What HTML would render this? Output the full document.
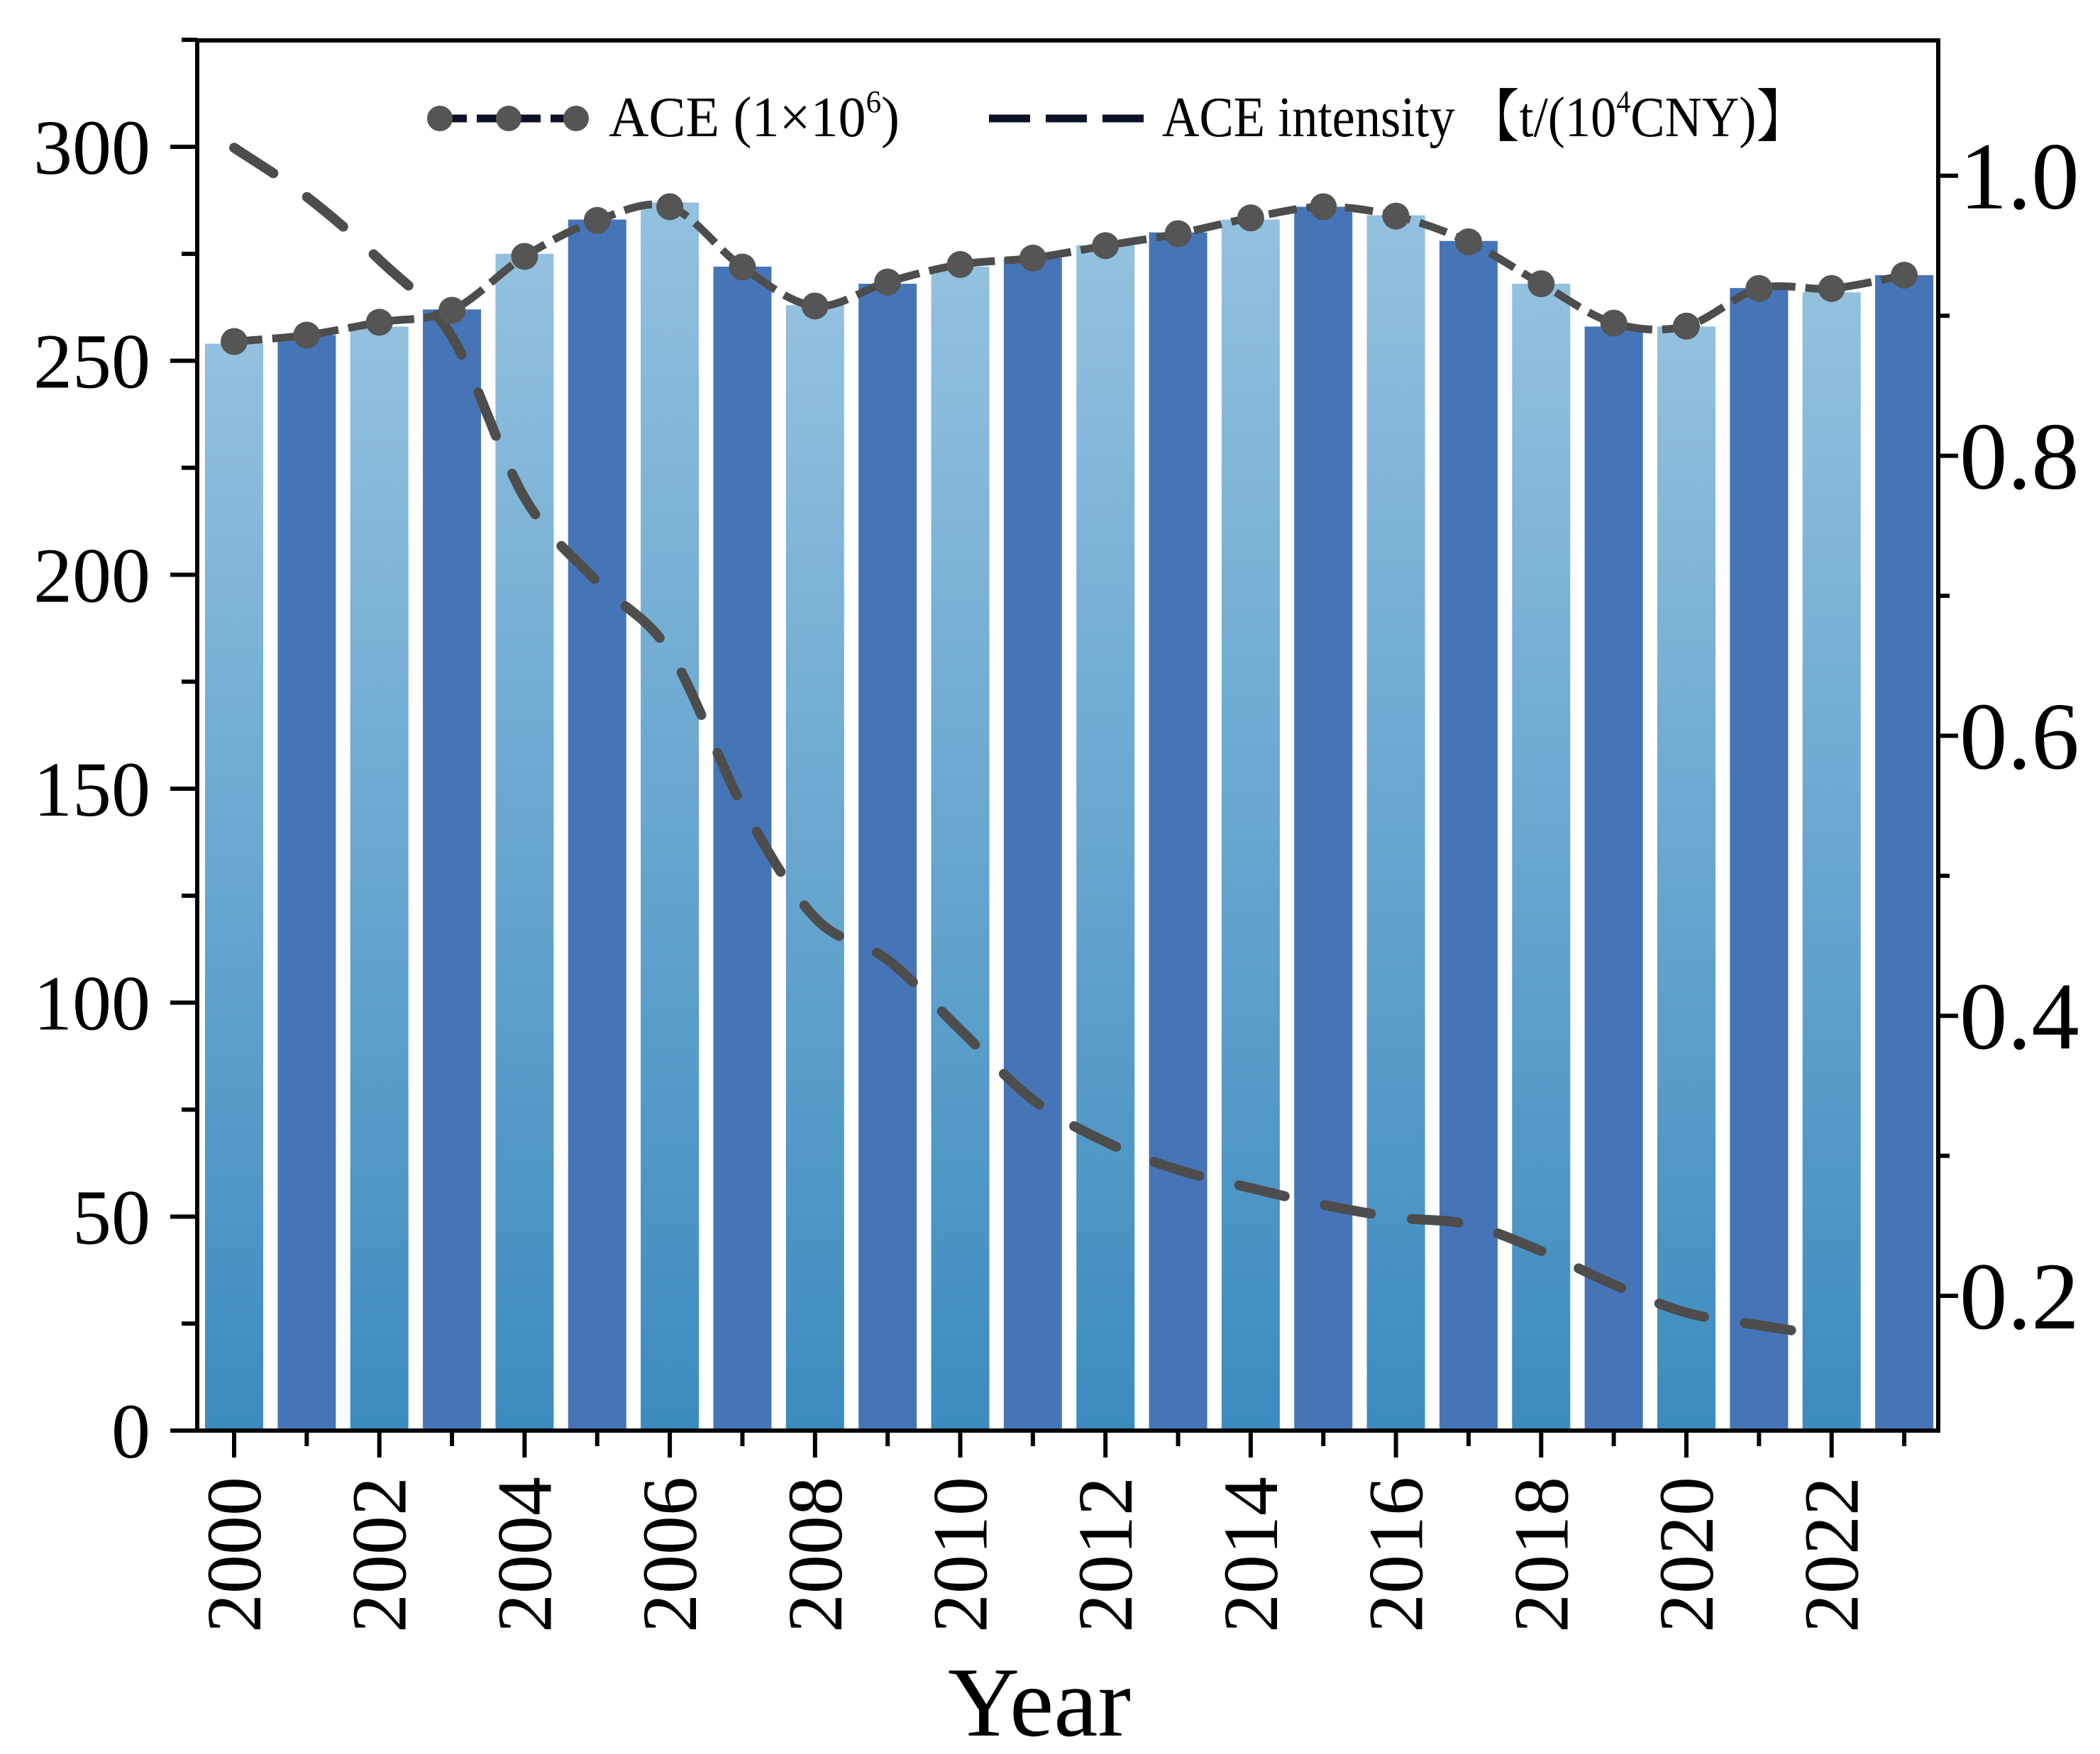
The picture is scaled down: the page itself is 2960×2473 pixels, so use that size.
<!DOCTYPE html>
<html><head><meta charset="utf-8"><style>html,body{margin:0;padding:0;background:#fff}svg{display:block}</style></head>
<body>
<svg id="chart" width="2960" height="2473" viewBox="0 0 2960 2473" xmlns="http://www.w3.org/2000/svg" font-family="'Liberation Serif', serif">
<defs>
<linearGradient id="lightGrad" x1="0" y1="0" x2="0" y2="1">
<stop offset="0" stop-color="#93c1df"/><stop offset="1" stop-color="#3c8bbf"/>
</linearGradient>
</defs>
<g id="bars"></g>
<g id="lines"></g>
<g id="axes"></g>
<g>
<line x1="620" y1="167" x2="812" y2="167" stroke="#0d1128" stroke-width="11" stroke-dasharray="38 14"/>
<circle cx="620" cy="167" r="18" fill="#555"/>
<circle cx="717" cy="167" r="18" fill="#555"/>
<circle cx="812" cy="167" r="18" fill="#555"/>
<text x="858" y="192" font-size="80" textLength="410" lengthAdjust="spacingAndGlyphs">ACE (1×10<tspan font-size="44" dy="-34">6</tspan><tspan dy="34">)</tspan></text>
<line x1="1394" y1="167" x2="1612" y2="167" stroke="#0d1128" stroke-width="11" stroke-dasharray="58 22"/>
<text x="1638" y="192" font-size="80" textLength="910" lengthAdjust="spacingAndGlyphs" font-family="'Liberation Serif','Noto Serif CJK SC',serif">ACE intensity 【t/(10<tspan font-size="44" dy="-34">4</tspan><tspan dy="34">CNY)】</tspan></text>
</g>
<text x="1465" y="2447" font-size="140" text-anchor="middle">Year</text>
</svg>
<script>
const years=[2000,2001,2002,2003,2004,2005,2006,2007,2008,2009,2010,2011,2012,2013,2014,2015,2016,2017,2018,2019,2020,2021,2022,2023];
const barValues=[254,256,258,262,275,283,287,272,263,268,272,274,277,280,283,286,284,278,268,258,258,267,266,270];
const aceValues=[254.5,256,259,261.8,274.4,282.8,286,271.9,262.8,268.4,272.5,274,276.9,279.7,283.4,286,283.8,277.8,268,258.8,258.1,266.9,266.9,270];
const intensityYears=[2000,2001,2002,2003,2004,2005,2006,2007,2008,2009,2010,2011,2012,2013,2014,2015,2016,2017,2018,2019,2020,2021,2022];
const intensityValues=[1.02,0.985,0.94,0.885,0.77,0.71,0.66,0.55,0.47,0.44,0.39,0.34,0.31,0.29,0.277,0.265,0.256,0.251,0.232,0.208,0.188,0.179,0.171];
const leftTicks=[0,50,100,150,200,250,300];
const rightTicks=[0.2,0.4,0.6,0.8,1.0];
const NS='http://www.w3.org/2000/svg';
const L=278,R=2732,T=57,B=2017;
const xs=y=>330+(y-2000)*102.35;
const yl=v=>B-(v/300)*(B-207);
const yr=v=>1827-(v-0.2)*1974;
function mk(tag,attrs,parent){const e=document.createElementNS(NS,tag);for(const k in attrs)e.setAttribute(k,attrs[k]);parent.appendChild(e);return e;}
const bars=document.getElementById('bars'),lines=document.getElementById('lines'),axes=document.getElementById('axes');
years.forEach((y,i)=>{
 const top=yl(barValues[i]);
 const r=mk('rect',{x:xs(y)-41,y:top,width:82,height:B-top,fill:(y%2===0)?'url(#lightGrad)':'#4675b7'},bars);
 
 
});
function smooth(pts){let d='M'+pts[0][0]+','+pts[0][1];for(let i=0;i<pts.length-1;i++){const p0=pts[Math.max(0,i-1)],p1=pts[i],p2=pts[i+1],p3=pts[Math.min(pts.length-1,i+2)];const c1=[p1[0]+(p2[0]-p0[0])/6,p1[1]+(p2[1]-p0[1])/6],c2=[p2[0]-(p3[0]-p1[0])/6,p2[1]-(p3[1]-p1[1])/6];d+=' C'+c1+' '+c2+' '+p2;}return d;}
const ip=intensityYears.map((y,i)=>[xs(y),yr(intensityValues[i])]);
const il=mk('path',{d:smooth(ip),fill:'none',stroke:'#4d4d4d','stroke-width':14,'stroke-linecap':'round','stroke-dasharray':'66 58'},lines);


const ap=years.map((y,i)=>[xs(y),yl(aceValues[i])]);
const al=mk('path',{d:smooth(ap),fill:'none',stroke:'#4d4d4d','stroke-width':11,'stroke-dasharray':'40 14'},lines);


ap.forEach((p,i)=>{const c=mk('circle',{cx:p[0],cy:p[1],r:19,fill:'#555'},lines);
 
 });
mk('rect',{x:L,y:T,width:R-L,height:B-T,fill:'none',stroke:'#000','stroke-width':6},axes);
for(let v=0;v<=325;v+=25){const y=yl(v);mk('line',{x1:L,x2:L-(v%50===0?38:22),y1:y,y2:y,stroke:'#000','stroke-width':6},axes);}
leftTicks.forEach(v=>{const t=mk('text',{x:212,y:yl(v)+38,'font-size':110,'text-anchor':'end'},axes);t.textContent=v;
 
 });
for(let k=2;k<=10;k++){const v=k/10;const y=yr(v);mk('line',{x1:R,x2:R+(k%2===0?28:16),y1:y,y2:y,stroke:'#000','stroke-width':6},axes);}
rightTicks.forEach(v=>{const t=mk('text',{x:2762,y:yr(v)+46,'font-size':135},axes);t.textContent=v.toFixed(1);
 
 });
years.forEach(y=>{const x=xs(y);mk('line',{x1:x,x2:x,y1:B,y2:B+(y%2===0?38:22),stroke:'#000','stroke-width':6},axes);
 if(y%2===0){const t=mk('text',{x:0,y:0,'font-size':110,'text-anchor':'end',transform:'translate('+(x+37)+',2082) rotate(-90)'},axes);t.textContent=y;
 
 }});
</script>
</body></html>
